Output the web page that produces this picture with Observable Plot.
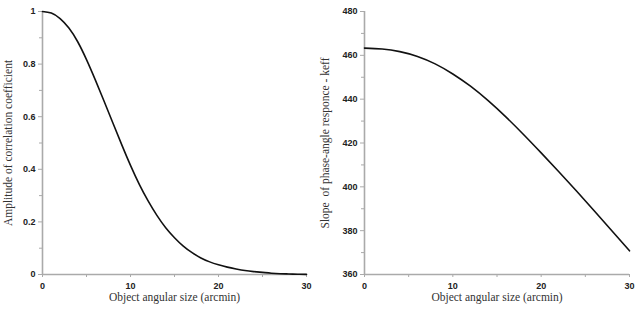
<!DOCTYPE html>
<html><head><meta charset="utf-8">
<script src="https://cdn.jsdelivr.net/npm/d3@7"></script>
<script src="https://cdn.jsdelivr.net/npm/@observablehq/plot@0.6"></script>
<style>
body{margin:0;background:#fff;}
#wrap{display:flex;width:643px;height:312px;overflow:hidden;}
#wrap svg{display:block;}
</style></head><body><div id="wrap"></div>
<script>
// Left panel: amplitude of correlation coefficient vs object angular size
const sizeA = [0,1,2,3,4,5,6,7,8,9,10,11,12,13,14,15,16,17,18,19,20,21,22,23,24,25,26,27,28,29,30];
const amplitude = [1.0,0.994,0.973,0.937,0.885,0.817,0.74,0.659,0.576,0.494,0.415,0.343,0.28,0.225,0.178,0.14,0.108,0.083,0.063,0.048,0.037,0.028,0.021,0.015,0.011,0.008,0.005,0.003,0.002,0.001,0.0005];
// Right panel: slope of phase-angle response vs object angular size
const sizeB = [0,2,4,6,8,10,12,14,16,18,20,22,24,26,28,30];
const slope = [463.3,462.9,461.7,459.5,456.1,451.5,445.9,439.3,431.9,423.9,415.5,406.9,398.1,389.1,380.0,370.8];

const xTicks = [0,10,20,30];
const xMinor = [5,15,25];
const yTicksA = [0,0.2,0.4,0.6,0.8,1];
const yMinorA = [0.1,0.3,0.5,0.7,0.9];
const yTicksB = [360,380,400,420,440,460,480];
const yMinorB = [370,390,410,430,450,470];
const xTitle = "Object angular size (arcmin)";
const yTitleA = "Amplitude of correlation coefficient";
const yTitleB = "Slope  of phase-angle responce - keff";

const axisGray = "#aaaaaa";
const sans = "'Liberation Sans', Arial, sans-serif";
const serif = "'Liberation Serif', 'Times New Roman', serif";

function panel({xs, ys, yDomain, yTicks, yMinor, yTitle, width, ml, mr, yTitleDx}) {
  const data = xs.map((x, i) => ({x, y: ys[i]}));
  return Plot.plot({
    width, height: 312,
    marginLeft: ml, marginRight: mr, marginTop: 11, marginBottom: 38,
    style: {fontFamily: sans, background: "#fff", overflow: "visible"},
    x: {domain: [0, 30]},
    y: {domain: yDomain},
    marks: [
      Plot.axisX(xMinor, {tickSize: 3, tickFormat: () => "", stroke: axisGray, label: null}),
      Plot.axisY(yMinor, {tickSize: 3, tickFormat: () => "", stroke: axisGray, label: null}),
      Plot.axisX(xTicks, {tickSize: 3, tickPadding: 5, stroke: axisGray, fill: "#222", fontWeight: "bold", fontSize: 9, tickFormat: d => String(d), label: null}),
      Plot.axisY(yTicks, {tickSize: 4, tickPadding: 3, stroke: axisGray, fill: "#222", fontWeight: "bold", fontSize: 9, tickFormat: d => String(d), label: null}),
      Plot.ruleY([yDomain[0]], {stroke: axisGray, strokeWidth: 1.6}),
      Plot.ruleX([0], {stroke: axisGray, strokeWidth: 1.6}),
      Plot.line(data, {x: "x", y: "y", stroke: "#111", strokeWidth: 1.6, curve: "natural"}),
      Plot.text([xTitle], {text: d => d, frameAnchor: "bottom", dy: 26, fontFamily: serif, fontSize: 11.5, fill: "#333"}),
      Plot.text([yTitle], {text: d => d, frameAnchor: "left", textAnchor: "middle", dx: yTitleDx, rotate: -90, fontFamily: serif, fontSize: 11.5, fill: "#333"})
    ]
  });
}

const wrap = document.getElementById("wrap");
wrap.append(panel({xs: sizeA, ys: amplitude, yDomain: [0, 1], yTicks: yTicksA, yMinor: yMinorA, yTitle: yTitleA, width: 321, ml: 42, mr: 15, yTitleDx: -34}));
wrap.append(panel({xs: sizeB, ys: slope, yDomain: [360, 480], yTicks: yTicksB, yMinor: yMinorB, yTitle: yTitleB, width: 322, ml: 43, mr: 14, yTitleDx: -39}));
</script></body></html>
